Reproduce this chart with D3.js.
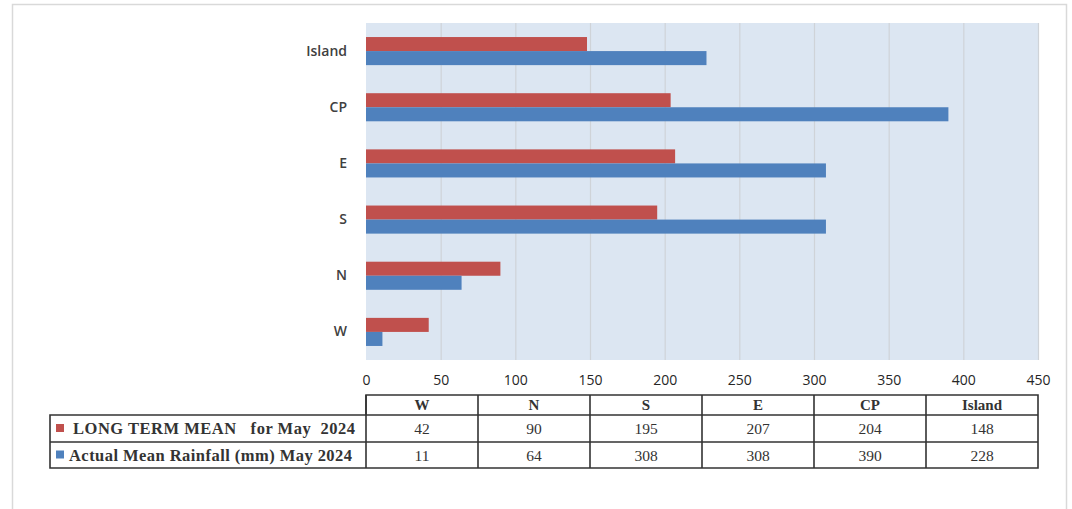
<!DOCTYPE html>
<html>
<head>
<meta charset="utf-8">
<script src="https://cdn.jsdelivr.net/npm/d3@7/dist/d3.min.js"></script>
<style>
  body { margin: 0; background: #fff; }
  svg { display: block; }
</style>
</head>
<body>
<svg id="chart" width="1072" height="509"></svg>
<script>
const categories = ["W", "N", "S", "E", "CP", "Island"];
const seriesNames = ["LONG TERM MEAN   for May  2024", "Actual Mean Rainfall (mm) May 2024"];
const longTermMean = [42, 90, 195, 207, 204, 148];
const actualMean = [11, 64, 308, 308, 390, 228];
const xTicks = [0, 50, 100, 150, 200, 250, 300, 350, 400, 450];
const colors = ["#C0504D", "#4F81BD"];

(function () {
const svg = d3.select("#chart");

// outer frame
svg.append("path")
  .attr("d", "M12.5,509 V4.5 H1066.5 V509")
  .attr("fill", "none").attr("stroke", "#d9d9d9").attr("stroke-width", 1.5);

const pL = 366, pR = 1038, pT = 23, pB = 360;
const x = d3.scaleLinear().domain([0, 450]).range([pL, pR]);
const y = d3.scaleBand().domain(categories.slice().reverse()).range([pT, pB]).paddingInner(0.5).paddingOuter(0.25);
const ySub = d3.scaleBand().domain([0, 1]).range([0, y.bandwidth()]);

svg.append("rect").attr("x", pL).attr("y", pT).attr("width", pR - pL).attr("height", pB - pT)
  .attr("fill", "#DCE6F2");

// gridlines
svg.append("g").selectAll("line").data(xTicks.slice(1)).join("line")
  .attr("x1", d => x(d) + 0.5).attr("x2", d => x(d) + 0.5)
  .attr("y1", pT).attr("y2", pB)
  .attr("stroke", "#cfd3d8").attr("stroke-width", 1.2);

const series = [longTermMean, actualMean];
series.forEach((vals, si) => {
  svg.append("g").selectAll("rect").data(categories).join("rect")
    .attr("x", x(0))
    .attr("y", (c) => y(c) + ySub(si))
    .attr("width", (c, i) => x(vals[i]) - x(0))
    .attr("height", ySub.bandwidth())
    .attr("fill", colors[si]);
});

// y labels
const yAxis = d3.axisLeft(y).tickSize(0).tickPadding(19);
const gy = svg.append("g").attr("transform", `translate(${pL},0)`).call(yAxis);
gy.select(".domain").remove();
gy.selectAll("text").attr("font-family", "Open Sans, sans-serif").attr("font-size", 14)
  .attr("font-weight", 600).attr("fill", "#404040");

// x ticks
const xAxis = d3.axisBottom(x).tickValues(xTicks).tickSize(0).tickPadding(0);
const gx = svg.append("g").attr("transform", `translate(0,${pB + 15})`).call(xAxis);
gx.select(".domain").remove();
gx.selectAll("text").attr("font-family", "Open Sans, sans-serif").attr("font-size", 14).attr("fill", "#262626");

// data table
const tTop = 395, r1 = 415, r2 = 442, tBot = 468, tLeft = 50;
const colW = (pR - pL) / categories.length;
const tg = svg.append("g").attr("stroke", "#333").attr("stroke-width", 1.6).attr("fill", "none");
tg.append("path").attr("d", `M${pL},${r1} V${tTop} H${pR} V${tBot} H${tLeft} V${r1} H${pR} M${tLeft},${r2} H${pR}`);
categories.slice(1).forEach((c, i) => {
  tg.append("line").attr("x1", pL + colW * (i + 1)).attr("x2", pL + colW * (i + 1)).attr("y1", tTop).attr("y2", tBot);
});
tg.append("line").attr("x1", pL).attr("x2", pL).attr("y1", tTop).attr("y2", tBot);

const serif = "Liberation Serif, Times New Roman, serif";
svg.append("g").selectAll("text").data(categories).join("text")
  .attr("x", (c, i) => pL + colW * (i + 0.5)).attr("y", (tTop + r1) / 2 + 5)
  .attr("text-anchor", "middle").attr("font-family", serif).attr("font-weight", "bold")
  .attr("font-size", 15).attr("fill", "#333").text(d => d);

const rowsY = [(r1 + r2) / 2 + 5.5, (r2 + tBot) / 2 + 5.5];
const legX = [73, 69], legW = [282, 283];
series.forEach((vals, si) => {
  svg.append("g").selectAll("text").data(vals).join("text")
    .attr("x", (d, i) => pL + colW * (i + 0.5)).attr("y", rowsY[si])
    .attr("text-anchor", "middle").attr("font-family", serif)
    .attr("font-size", 15.5).attr("fill", "#333").text(d => d);
  svg.append("rect").attr("x", 56).attr("y", rowsY[si] - 10).attr("width", 8).attr("height", 8).attr("fill", colors[si]);
  svg.append("text").attr("x", legX[si]).attr("y", rowsY[si])
    .attr("font-family", serif).attr("font-weight", "bold").attr("font-size", 16.5)
    .attr("fill", "#333").style("white-space", "pre")
    .attr("textLength", legW[si]).attr("lengthAdjust", "spacing")
    .text(seriesNames[si]);
});
})();
</script>
</body>
</html>
